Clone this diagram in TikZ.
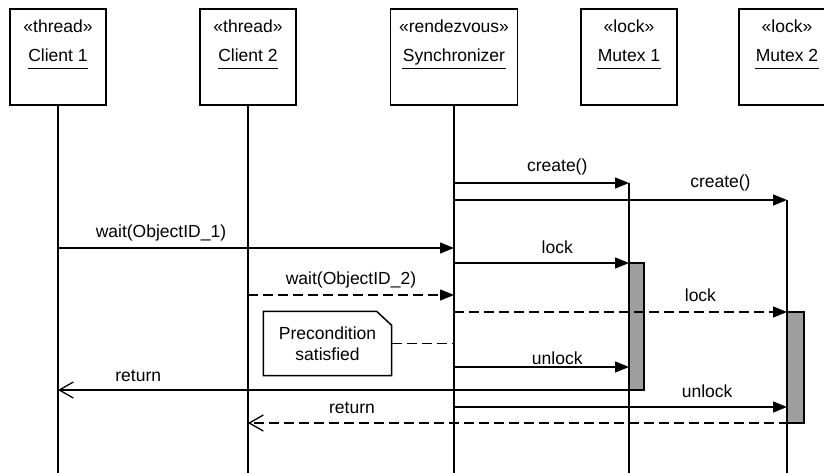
\documentclass[tikz,border=0pt]{standalone}
\usepackage{fontspec}
\setmainfont{Liberation Sans}
\usetikzlibrary{arrows.meta}

\tikzset{
  obj/.style={draw, line width=1.6pt, minimum height=96pt, inner sep=0pt, outer sep=0pt},
  stereo/.style={anchor=base, inner sep=0pt},
  objname/.style={anchor=base, inner xsep=0pt},
  act/.style={draw, fill=black!38, inner sep=0pt, outer sep=0pt, anchor=north west},
  call/.style={-{Triangle[length=14pt,width=11pt]}},
  ret/.style={-{Straight Barb[length=14pt,width=16pt]}},
  async/.style={dash pattern=on 10pt off 5pt},
  lbl/.style={anchor=base, yshift=#1},
  lbl/.default=10pt,
  note/.style={align=center, minimum width=127pt, minimum height=63pt, inner sep=0pt}
}

\begin{document}
\begin{tikzpicture}[x=1pt,y=-1pt,line width=1.3pt,font=\fontsize{17.5}{21}\selectfont]
\clip (0,0) rectangle (824,473);
%Objects
\foreach \n/\x/\w/\s/\t in {c1/58/96/thread/Client 1, c2/248/96/thread/Client 2,
    sy/454/127/rendezvous/Synchronizer, m1/629/96/lock/Mutex 1, m2/787/96/lock/Mutex 2}{
  \node[obj, minimum width={\w pt}] (\n) at (\x,57) {};
  \node[stereo] (\n-st) at (\x,33) {«\s»};
  \node[objname] (\n-nm) at (\x,62) {\t};
  \draw[line width=1pt] ([yshift=-7pt]\n-nm.base west) -- ([yshift=-7pt]\n-nm.base east);
}
%Message rows
\coordinate (create1) at (0,183);
\coordinate (create2) at (0,200);
\coordinate (wait1) at (0,248);
\coordinate (lock1) at (0,263);
\coordinate (wait2) at (0,295);
\coordinate (lock2) at (0,312);
\coordinate (unlock1) at (0,367);
\coordinate (unlock2) at (0,407);
\coordinate (bot) at (0,480);
%Lifelines
\draw (c1) -- (c1 |- bot);
\draw (c2) -- (c2 |- bot);
\draw (sy) -- (sy |- bot);
\draw (m1 |- create1) -- (m1 |- bot);
\draw (m2 |- create2) -- (m2 |- bot);
%Activations
\node[act, minimum width=15pt, minimum height=127pt] (a1) at (m1 |- lock1) {};
\node[act, minimum width=17pt, minimum height=111pt] (a2) at (m2 |- lock2) {};
%Messages
\draw[call] (sy |- create1) -- (m1 |- create1) node[lbl=11pt, pos=0.59] {create()};
\draw[call] (sy |- create2) -- (m2 |- create2) node[lbl=12pt, pos=0.80] {create()};
\draw[call] (c1 |- wait1) -- (sy |- wait1) node[lbl=11pt, pos=0.26] {wait(ObjectID\_1)};
\draw[call] (sy |- lock1) -- (m1 |- lock1) node[lbl, pos=0.59] {lock};
\draw[call, async] (c2 |- wait2) -- (sy |- wait2) node[lbl=11pt, pos=0.5] {wait(ObjectID\_2)};
\draw[call, async] (sy |- lock2) -- (m2 |- lock2) node[lbl=11pt, pos=0.74] {lock};
\draw[call] (sy |- unlock1) -- (m1 |- unlock1) node[lbl=3pt, pos=0.59] {unlock};
\draw[ret] (a1.south east) -- (c1 |- a1.south) node[lbl=9pt, pos=0.863] {return};
\draw[call] (sy |- unlock2) -- (m2 |- unlock2) node[lbl, pos=0.76] {unlock};
\draw[ret, async] (a2.south east) -- (c2 |- a2.south) node[lbl, pos=0.813] {return};
%Note
\node[note] (nt) at (327.5,343.5) {Precondition\\satisfied};
\draw[line width=1.5pt] (nt.north west) -- ([xshift=-15pt]nt.north east) -- ([yshift=-14pt]nt.north east)
  -- (nt.south east) -- (nt.south west) -- cycle;
\draw[async] (nt.east) -- (nt.east -| sy);
\end{tikzpicture}
\end{document}
